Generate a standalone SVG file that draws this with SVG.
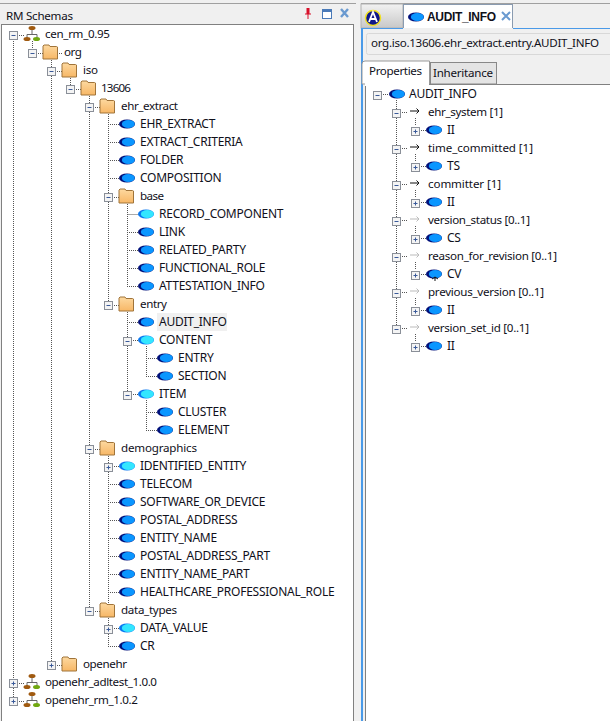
<svg xmlns="http://www.w3.org/2000/svg" width="610" height="721" viewBox="0 0 610 721">
<style>
text{font-family:"Noto Sans","Liberation Sans",sans-serif;font-size:12px;fill:#10101a;letter-spacing:-0.25px}
text.l{font-size:11.600px;letter-spacing:0}
text.h{font-family:"Liberation Sans",Arial,sans-serif;font-weight:700;letter-spacing:0}
.c{fill:none;stroke:#555;stroke-width:1;stroke-dasharray:1 1}
.b{fill:#f4f4f4;stroke:#8a8f98}
.g{stroke:#3a5a9a;stroke-width:1;fill:none}
</style>
<defs>
<linearGradient id="fg" x1="0" y1="0" x2="0" y2="1"><stop offset="0" stop-color="#fdd9a0"/><stop offset="1" stop-color="#f7b766"/></linearGradient>
<linearGradient id="tabg" x1="0" y1="0" x2="0" y2="1"><stop offset="0" stop-color="#f2f2f2"/><stop offset="1" stop-color="#c8c8c8"/></linearGradient>
<g id="minus"><rect x="-3.500" y="-3.500" width="8" height="8" class="b"/><path d="M-1.500 0.500H2.500" class="g"/></g>
<g id="plus"><rect x="-3.500" y="-3.500" width="8" height="8" class="b"/><path d="M-1.500 0.500H2.500M0.500 -1.500V2.500" class="g"/></g>
<g id="blue"><ellipse cx="0" cy="0" rx="8" ry="4.500" fill="#00107a"/><ellipse cx="1.300" cy="0" rx="6.500" ry="4" fill="#0a96ff"/></g>
<g id="cyan"><ellipse cx="0" cy="0" rx="8" ry="4.500" fill="#0a78f0"/><ellipse cx="1.300" cy="0" rx="6.500" ry="4" fill="#33e6ff"/></g>
<g id="folder"><path d="M-7 -5V-7L-6 -8H-1L0 -6.500H6.500L7.500 -6V6H-7Z" fill="url(#fg)" stroke="#a0743a"/></g>
<g id="pkg"><ellipse cx="0" cy="-7" rx="3.500" ry="2" fill="#a05a10"/><path d="M0 -5V-1M-5 3V-0.500H5V3" fill="none" stroke="#666"/><ellipse cx="-5" cy="4" rx="3.500" ry="2" fill="#a05a10"/><ellipse cx="4.500" cy="4" rx="3.500" ry="2" fill="#70a810"/></g>
<g id="arr"><path d="M-5 0H4M1.500 -2.500L4 0L1.500 2.500" fill="none" stroke="#111"/></g>
<g id="arrl"><path d="M-5 0H4M1.500 -2.500L4 0L1.500 2.500" fill="none" stroke="#bbb"/></g>
</defs>
<rect width="610" height="721" fill="#f0f0f0"/>
<g id="frames">
<path d="M0 3.500H356M361 3.500H610" stroke="#a0a0a0" fill="none"/>
<rect x="1.500" y="24.500" width="352" height="700" fill="#fff" stroke="#808080"/>
<text class="l" x="6" y="20" textLength="67">RM Schemas</text>
<rect x="306.500" y="8" width="3" height="6" fill="#d8102a"/><path d="M305 14H311M308 14V19" stroke="#d8102a"/>
<rect x="322.500" y="9.500" width="9" height="9" fill="#fff" stroke="#4a7ab8"/><path d="M322.500 11H331.500" stroke="#4a7ab8" stroke-width="2"/>
<path d="M341 9L348 17M348 9L341 17" stroke="#6a9ad0" stroke-width="2.400"/>
<rect x="361" y="4" width="42" height="24" fill="url(#tabg)" stroke="#b0b0b0"/>
<rect x="403.500" y="4.500" width="109" height="24" fill="#fff" stroke="#8a9bb0"/>
<rect x="361" y="28" width="249" height="693" fill="#f0f0f0"/>
<path d="M361 28.500H403M513 28.500H610" stroke="#4a9ae8"/>
<path d="M362 28V721" stroke="#4a9ae8" stroke-width="2"/>
<circle cx="373" cy="18" r="7.500" fill="#10188a" stroke="#f0e020" stroke-width="1.500"/>
<path d="M369 22L373 12L377 22M370.500 19H375.500" fill="none" stroke="#fff" stroke-width="1.800"/>
<use href="#blue" x="416" y="17"/>
<text class="h" x="427" y="21" textLength="69">AUDIT_INFO</text>
<path d="M502 12L510 20M510 12L502 20" stroke="#6a9ad0" stroke-width="2"/>
<rect x="366.500" y="33.500" width="250" height="21" rx="2" fill="#f0f0f0" stroke="#d8d8d8"/>
<text class="l" x="371" y="47" textLength="228">org.iso.13606.ehr_extract.entry.AUDIT_INFO</text>
<rect x="365.500" y="84.500" width="250" height="640" fill="#fff" stroke="#808080"/>
<path d="M362 82.500V64Q362 61 365 61H429.500V84H362Z" fill="#fff" stroke="#999"/>
<rect x="365" y="83" width="64" height="3" fill="#fff"/>
<rect x="430.500" y="62.500" width="66" height="21.500" fill="#e4e4e4" stroke="#888"/>
<text class="l" x="369" y="75" textLength="53">Properties</text>
<text class="l" x="433" y="77" textLength="60">Inheritance</text>
</g>
<g id="connectors">
<path class="c" d="M13.500 41V682M32.500 41V49M19 35.500H24M19 683.500H24M19 701.500H24M13.500 682V700"/>
<path class="c" d="M51.500 58V664M38 53.500H43M57 53.500H62M57 665.500H62"/>
<path class="c" d="M70.500 76V85M57 71.500H62M76 89.500H81"/>
<path class="c" d="M89.500 94V610M95 107.500H100M95 449.500H100M95 611.500H100M108.500 112V304M108.500 454V646M108 124.500H120M108 142.500H120M108 160.500H120M108 178.500H120M114 197.500H119M114 305.500H119"/>
<path class="c" d="M127.500 202V286M127.500 214.500H139M127 232.500H139M127 250.500H139M127 268.500H139M127 286.500H139M127.500 310V394M127 322.500H139M133 340.500H139M133 394.500H139"/>
<path class="c" d="M146.500 346V376M146 358.500H158M146 376.500H158M146.500 400V430M146 412.500H158M146 430.500H158"/>
<path class="c" d="M114 466.500H120M108 484.500H120M108 502.500H120M108 520.500H120M108 538.500H120M108 556.500H120M108 574.500H120M108 592.500H120"/>
<path class="c" d="M114 628.500H120M108 646.500H120"/>
<path class="c" d="M383 94.500H389M396.500 100V328M402 112.500H408M402 148.500H408M402 184.500H408M402 220.500H408M402 256.500H408M402 292.500H408M402 328.500H408M415.500 118V126M415.500 154V162M415.500 190V198M415.500 226V234M415.500 262V270M415.500 298V306M415.500 334V342M421 130.500H427M421 166.500H427M421 202.500H427M421 238.500H427M421 274.500H427M421 310.500H427M421 346.500H427"/>
</g>
<g id="left-tree">
<g id="n-cen_rm"><use href="#minus" x="13" y="35"/><use href="#pkg" x="32" y="35"/><text class="l" x="45" y="38" textLength="65">cen_rm_0.95</text></g>
<g id="n-org"><use href="#minus" x="32" y="53"/><use href="#folder" x="50" y="53"/><text class="l" x="64" y="56" textLength="18">org</text></g>
<g id="n-iso"><use href="#minus" x="51" y="71"/><use href="#folder" x="69" y="71"/><text class="l" x="83" y="74" textLength="15">iso</text></g>
<g id="n-13606"><use href="#minus" x="70" y="89"/><use href="#folder" x="88" y="89"/><text class="l" x="101" y="92" textLength="30">13606</text></g>
<g id="n-ehr_extract"><use href="#minus" x="89" y="107"/><use href="#folder" x="107" y="107"/><text class="l" x="121" y="110" textLength="57">ehr_extract</text></g>
<g id="n-ehr_extract_c"><use href="#blue" x="127" y="124"/><text x="140" y="128">EHR_EXTRACT</text></g>
<g id="n-extract_criteria"><use href="#blue" x="127" y="142"/><text x="140" y="146">EXTRACT_CRITERIA</text></g>
<g id="n-folder"><use href="#blue" x="127" y="160"/><text x="140" y="164">FOLDER</text></g>
<g id="n-composition"><use href="#blue" x="127" y="178"/><text x="140" y="182">COMPOSITION</text></g>
<g id="n-base"><use href="#minus" x="108" y="197"/><use href="#folder" x="126" y="197"/><text class="l" x="140" y="200" textLength="24">base</text></g>
<g id="n-record_component"><use href="#cyan" x="146" y="214"/><text x="159" y="218">RECORD_COMPONENT</text></g>
<g id="n-link"><use href="#blue" x="146" y="232"/><text x="159" y="236">LINK</text></g>
<g id="n-related_party"><use href="#blue" x="146" y="250"/><text x="159" y="254">RELATED_PARTY</text></g>
<g id="n-functional_role"><use href="#blue" x="146" y="268"/><text x="159" y="272">FUNCTIONAL_ROLE</text></g>
<g id="n-attestation_info"><use href="#blue" x="146" y="286"/><text x="159" y="290">ATTESTATION_INFO</text></g>
<g id="n-entry"><use href="#minus" x="108" y="305"/><use href="#folder" x="126" y="305"/><text class="l" x="140" y="308" textLength="27">entry</text></g>
<g id="n-audit_info"><rect x="157" y="313" width="70" height="18" fill="#f0f0f0"/><use href="#blue" x="146" y="322"/><text x="159" y="326">AUDIT_INFO</text></g>
<g id="n-content"><use href="#minus" x="127" y="341"/><use href="#cyan" x="146" y="340"/><text x="159" y="344">CONTENT</text></g>
<g id="n-entry_c"><use href="#blue" x="165" y="358"/><text x="178" y="362">ENTRY</text></g>
<g id="n-section"><use href="#blue" x="165" y="376"/><text x="178" y="380">SECTION</text></g>
<g id="n-item"><use href="#minus" x="127" y="395"/><use href="#cyan" x="146" y="394"/><text x="159" y="398">ITEM</text></g>
<g id="n-cluster"><use href="#blue" x="165" y="412"/><text x="178" y="416">CLUSTER</text></g>
<g id="n-element"><use href="#blue" x="165" y="430"/><text x="178" y="434">ELEMENT</text></g>
<g id="n-demographics"><use href="#minus" x="89" y="449"/><use href="#folder" x="107" y="449"/><text class="l" x="121" y="452" textLength="76">demographics</text></g>
<g id="n-identified_entity"><use href="#plus" x="108" y="467"/><use href="#cyan" x="127" y="466"/><text x="140" y="470">IDENTIFIED_ENTITY</text></g>
<g id="n-telecom"><use href="#blue" x="127" y="484"/><text x="140" y="488">TELECOM</text></g>
<g id="n-software"><use href="#blue" x="127" y="502"/><text x="140" y="506">SOFTWARE_OR_DEVICE</text></g>
<g id="n-postal_address"><use href="#blue" x="127" y="520"/><text x="140" y="524">POSTAL_ADDRESS</text></g>
<g id="n-entity_name"><use href="#blue" x="127" y="538"/><text x="140" y="542">ENTITY_NAME</text></g>
<g id="n-postal_part"><use href="#blue" x="127" y="556"/><text x="140" y="560">POSTAL_ADDRESS_PART</text></g>
<g id="n-entity_part"><use href="#blue" x="127" y="574"/><text x="140" y="578">ENTITY_NAME_PART</text></g>
<g id="n-hpr"><use href="#blue" x="127" y="592"/><text x="140" y="596">HEALTHCARE_PROFESSIONAL_ROLE</text></g>
<g id="n-data_types"><use href="#minus" x="89" y="611"/><use href="#folder" x="107" y="611"/><text class="l" x="121" y="614" textLength="56">data_types</text></g>
<g id="n-data_value"><use href="#plus" x="108" y="629"/><use href="#cyan" x="127" y="628"/><text x="140" y="632">DATA_VALUE</text></g>
<g id="n-cr"><use href="#blue" x="127" y="646"/><text x="140" y="650">CR</text></g>
<g id="n-openehr"><use href="#plus" x="51" y="665"/><use href="#folder" x="69" y="665"/><text class="l" x="83" y="668" textLength="44">openehr</text></g>
<g id="n-adltest"><use href="#plus" x="13" y="683"/><use href="#pkg" x="32" y="683"/><text class="l" x="45" y="686" textLength="112">openehr_adltest_1.0.0</text></g>
<g id="n-rm"><use href="#plus" x="13" y="701"/><use href="#pkg" x="32" y="701"/><text class="l" x="45" y="704" textLength="93">openehr_rm_1.0.2</text></g>
</g>
<g id="right-tree">
<g id="p-audit"><use href="#minus" x="377" y="95"/><use href="#blue" x="397" y="94"/><text x="409" y="98">AUDIT_INFO</text></g>
<g id="p-ehr_system"><use href="#minus" x="396" y="113"/><use href="#arr" x="415" y="111"/><text class="l" x="428" y="116" textLength="75">ehr_system [1]</text></g>
<g id="p-ii1"><use href="#plus" x="415" y="131"/><use href="#blue" x="434" y="130"/><text x="447" y="134">II</text></g>
<g id="p-time"><use href="#minus" x="396" y="149"/><use href="#arr" x="415" y="147"/><text class="l" x="428" y="152" textLength="105">time_committed [1]</text></g>
<g id="p-ts"><use href="#plus" x="415" y="167"/><use href="#blue" x="434" y="166"/><text x="447" y="170">TS</text></g>
<g id="p-committer"><use href="#minus" x="396" y="185"/><use href="#arr" x="415" y="183"/><text class="l" x="428" y="188" textLength="73">committer [1]</text></g>
<g id="p-ii2"><use href="#plus" x="415" y="203"/><use href="#blue" x="434" y="202"/><text x="447" y="206">II</text></g>
<g id="p-status"><use href="#minus" x="396" y="221"/><use href="#arrl" x="415" y="219"/><text class="l" x="428" y="224" textLength="102">version_status [0..1]</text></g>
<g id="p-cs"><use href="#plus" x="415" y="239"/><use href="#blue" x="434" y="238"/><text x="447" y="242">CS</text></g>
<g id="p-reason"><use href="#minus" x="396" y="257"/><use href="#arrl" x="415" y="255"/><text class="l" x="428" y="260" textLength="129">reason_for_revision [0..1]</text></g>
<g id="p-cv"><use href="#plus" x="415" y="275"/><use href="#blue" x="434" y="274"/><path d="M432 279L435 277L438 279M435 277V281" fill="none" stroke="#111"/><text x="447" y="278">CV</text></g>
<g id="p-prev"><use href="#minus" x="396" y="293"/><use href="#arrl" x="415" y="291"/><text class="l" x="428" y="296" textLength="116">previous_version [0..1]</text></g>
<g id="p-ii3"><use href="#plus" x="415" y="311"/><use href="#blue" x="434" y="310"/><text x="447" y="314">II</text></g>
<g id="p-setid"><use href="#minus" x="396" y="329"/><use href="#arrl" x="415" y="327"/><text class="l" x="428" y="332" textLength="101">version_set_id [0..1]</text></g>
<g id="p-ii4"><use href="#plus" x="415" y="347"/><use href="#blue" x="434" y="346"/><text x="447" y="350">II</text></g>
</g>
</svg>
